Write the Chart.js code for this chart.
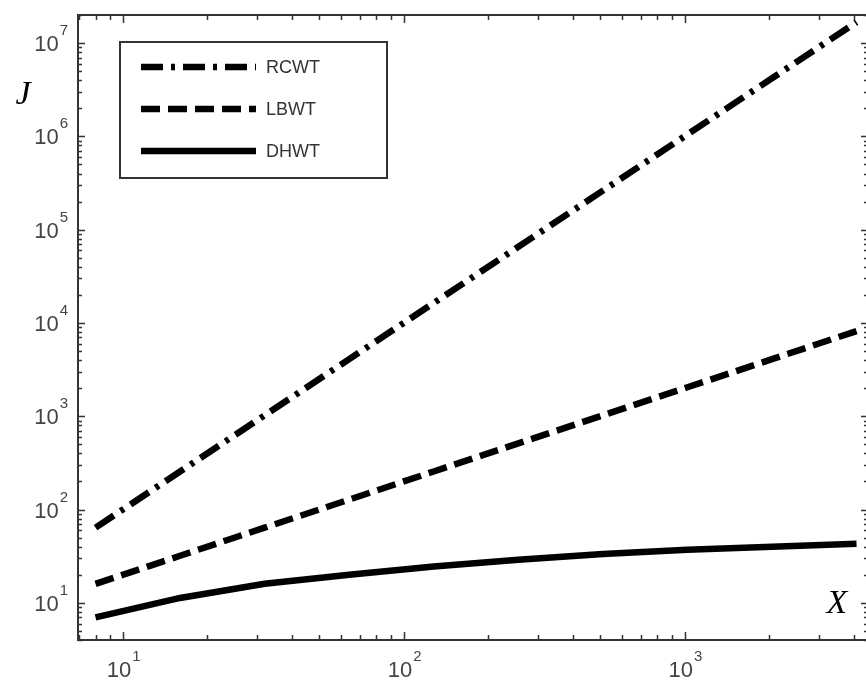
<!DOCTYPE html>
<html>
<head>
<meta charset="utf-8">
<script src="https://cdn.jsdelivr.net/npm/chart.js@4.4.0/dist/chart.umd.min.js"></script>
<style>
  html, body { margin: 0; padding: 0; overflow: hidden; background: #fff; }
  #wrap { width: 870px; height: 680px; position: relative; }
</style>
</head>
<body>
<div id="wrap"><canvas id="jChart"></canvas></div>
<script>
// data
const sizes = [8, 16, 32, 64, 128, 256, 512, 1024, 2048, 4096];
const rcwt = [64, 256, 1024, 4096, 16384, 65536, 262144, 1048576, 4194304, 16777216];
const lbwt = [16, 32, 64, 128, 256, 512, 1024, 2048, 4096, 8192];
const dhwt = [7, 11.3, 16, 20, 24.5, 29, 33.5, 37, 40, 43];

const seriesNames = ["RCWT", "LBWT", "DHWT"];
const xTickExps = [1, 2, 3];
const yTickExps = [1, 2, 3, 4, 5, 6, 7];

document.addEventListener("DOMContentLoaded", function () {
    const labelFont = '"Liberation Sans", Arial, sans-serif';

    function toPoints(vals) {
        return sizes.map(function (n, i) { return { x: n, y: vals[i] }; });
    }

    // "10" with a small raised exponent
    function drawPow(ctx, exp, px, baseline, align) {
        ctx.font = "22px " + labelFont;
        const wb = ctx.measureText("10").width;
        ctx.font = "15px " + labelFont;
        const we = ctx.measureText(String(exp)).width;
        const left = align === "center" ? px - (wb + we + 1) / 2 : px - wb - we - 1;
        ctx.font = "22px " + labelFont;
        ctx.fillText("10", left, baseline);
        ctx.font = "15px " + labelFont;
        ctx.fillText(String(exp), left + wb + 1, baseline - 16);
    }

    // boxed axes with inward ticks, tick labels, axis letters and legend
    const matlabFrame = {
        id: "matlabFrame",
        afterDraw(chart) {
            const ctx = chart.ctx;
            const a = chart.chartArea;
            const x = chart.scales.x;
            const y = chart.scales.y;
            ctx.save();
            ctx.strokeStyle = "#333";
            ctx.lineWidth = 2;
            ctx.strokeRect(a.left, a.top, a.right - a.left, a.bottom - a.top);

            ctx.lineWidth = 1.5;
            ctx.beginPath();
            for (let d = 0; d <= 4; d++) {
                for (let k = 1; k <= 9; k++) {
                    const v = k * Math.pow(10, d);
                    if (v < x.min || v > x.max) continue;
                    const px = Math.round(x.getPixelForValue(v)) + 0.5;
                    const len = k === 1 ? 8 : 5;
                    ctx.moveTo(px, a.bottom); ctx.lineTo(px, a.bottom - len);
                    ctx.moveTo(px, a.top); ctx.lineTo(px, a.top + len);
                }
            }
            for (let d = 0; d <= 8; d++) {
                for (let k = 1; k <= 9; k++) {
                    const v = k * Math.pow(10, d);
                    if (v < y.min || v > y.max) continue;
                    const py = Math.round(y.getPixelForValue(v)) + 0.5;
                    const len = k === 1 ? 7 : 4;
                    ctx.moveTo(a.left, py); ctx.lineTo(a.left + len, py);
                    ctx.moveTo(a.right, py); ctx.lineTo(a.right - len, py);
                }
            }
            ctx.stroke();

            ctx.fillStyle = "#444";
            ctx.textBaseline = "alphabetic";
            ctx.textAlign = "left";
            xTickExps.forEach(function (e) {
                drawPow(ctx, e, x.getPixelForValue(Math.pow(10, e)) + 1, a.bottom + 37, "center");
            });
            yTickExps.forEach(function (e) {
                drawPow(ctx, e, a.left - 10, y.getPixelForValue(Math.pow(10, e)) + 8, "right");
            });

            ctx.fillStyle = "#000";
            ctx.font = 'italic 34px "Liberation Serif", "Times New Roman", serif';
            ctx.textAlign = "center";
            ctx.textBaseline = "middle";
            ctx.fillText("J", 23, 95);
            ctx.fillText("X", 837, 604);

            // legend
            ctx.strokeStyle = "#333";
            ctx.lineWidth = 2;
            ctx.strokeRect(120, 42, 267, 136);
            chart.data.datasets.forEach(function (ds, i) {
                const ly = 67 + i * 42;
                ctx.strokeStyle = "#000";
                ctx.lineWidth = ds.borderWidth;
                ctx.setLineDash(ds.borderDash);
                ctx.beginPath();
                ctx.moveTo(141, ly);
                ctx.lineTo(256, ly);
                ctx.stroke();
                ctx.setLineDash([]);
                ctx.fillStyle = "#333";
                ctx.font = "18px " + labelFont;
                ctx.textAlign = "left";
                ctx.fillText(ds.label, 266, ly + 1);
            });
            ctx.restore();
        }
    };

    const ctx = document.getElementById("jChart").getContext("2d");
    new Chart(ctx, {
        type: "line",
        data: {
            datasets: [{
                label: seriesNames[0],
                data: toPoints(rcwt),
                borderColor: "#000",
                borderWidth: 6.5,
                borderDash: [22, 8, 4, 8]
            }, {
                label: seriesNames[1],
                data: toPoints(lbwt),
                borderColor: "#000",
                borderWidth: 6.5,
                borderDash: [19, 8]
            }, {
                label: seriesNames[2],
                data: toPoints(dhwt),
                borderColor: "#000",
                borderWidth: 6.5,
                borderDash: []
            }]
        },
        options: {
            responsive: true,
            maintainAspectRatio: false,
            animation: false,
            layout: { padding: { left: 78, right: 2, top: 15, bottom: 40 } },
            elements: { point: { radius: 0 }, line: { tension: 0, borderCapStyle: "butt" } },
            scales: {
                x: { type: "logarithmic", min: 6.93, max: 4500, display: false },
                y: { type: "logarithmic", min: 4, max: 2e7, display: false }
            },
            plugins: {
                legend: { display: false },
                tooltip: { enabled: false }
            }
        },
        plugins: [matlabFrame]
    });
});
</script>
</body>
</html>
